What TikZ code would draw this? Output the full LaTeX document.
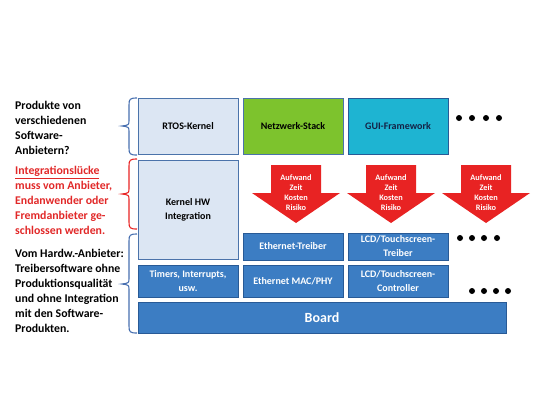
\documentclass[tikz,border=0pt]{standalone}
\usepackage{fontspec}
\setmainfont{Carlito}
\definecolor{lightc}{RGB}{220,230,243}
\definecolor{lightb}{RGB}{75,115,170}
\definecolor{midc}{RGB}{60,125,195}
\definecolor{midb}{RGB}{40,90,150}
\definecolor{greenc}{RGB}{125,195,45}
\definecolor{cyanc}{RGB}{30,180,210}
\definecolor{redc}{RGB}{232,35,35}
\definecolor{redt}{RGB}{225,40,40}
\definecolor{braceb}{RGB}{70,110,175}
\begin{document}
\begin{tikzpicture}[x=1bp,y=-1bp,
  box/.style={draw=lightb, line width=1bp, inner sep=0pt, outer sep=0pt, align=center,
    minimum width=100bp, font=\bfseries\fontsize{10bp}{14bp}\selectfont},
  lbox/.style={box, fill=lightc},
  mbox/.style={box, draw=midb, fill=midc, text=white},
  arrtext/.style={text=white, align=center, inner sep=0pt, font=\bfseries\fontsize{8.3bp}{10bp}\selectfont},
  sidetext/.style={anchor=north west, inner sep=0pt, align=left, font=\bfseries\fontsize{11.8bp}{15bp}\selectfont},
  bracesty/.style={line width=1.1bp},
  arrowsty/.style={fill=redc}
]
\useasboundingbox (0,0) rectangle (540,405);

% top row
\node[lbox, minimum height=56bp] (rtos) at (188,126) {RTOS-Kernel};
\node[box, fill=greenc, draw=lightb, minimum height=56bp] (netz) at (293,126) {Netzwerk-Stack};
\node[box, fill=cyanc, draw=midb, text={rgb,255:red,20;green,35;blue,70}, minimum height=56bp] (gui) at (398,126) {GUI-Framework};

% kernel integration
\node[lbox, minimum height=99bp] (kern) at (188,209.5) {Kernel HW\\Integration};

% driver rows
\node[mbox, minimum height=27bp] (ethtr) at (293,246.5) {Ethernet-Treiber};
\node[mbox, minimum height=27bp] (lcdtr) at (398,246.5) {LCD/Touchscreen-\\Treiber};
\node[mbox, minimum height=32bp] (timers) at (188,281) {Timers, Interrupts,\\usw.};
\node[mbox, minimum height=32bp] (ethmac) at (293,281) {Ethernet MAC/PHY};
\node[mbox, minimum height=32bp] (lcdctl) at (398,281) {LCD/Touchscreen-\\Controller};
\node[mbox, minimum width=368bp, minimum height=31bp, font=\bfseries\fontsize{14bp}{16bp}\selectfont] (board) at (322,317.5) {Board};

% red arrows
\foreach \cx/\n in {296/arrA, 391/arrB, 486/arrC}{
  \path[arrowsty] ({\cx-25},165) -- ({\cx+25},165) -- ({\cx+25},193) -- ({\cx+44},193)
    -- (\cx,223) -- ({\cx-44},193) -- ({\cx-25},193) -- cycle;
  \node[arrtext] (\n) at (\cx,193) {Aufwand\\Zeit\\Kosten\\Risiko};
}

% dots
\foreach \x in {459,472,486,499}{ \fill (\x,118) circle (3bp); }
\foreach \x in {460,472,484,497}{ \fill (\x,238) circle (3bp); }
\foreach \x in {472,484,496,508}{ \fill (\x,291) circle (3bp); }

% braces (rounded, like office curly braces)
\foreach \t/\m/\b/\c in {98/126/155/braceb, 159/194/229/redc, 234/284/333/braceb}{
  \draw[bracesty, \c] (137,\t) .. controls (130,\t) and (129,\t+1) .. (129,\t+7)
    -- (129,\m-6) .. controls (129,\m-1) .. (122,\m)
    .. controls (129,\m+1) .. (129,\m+6)
    -- (129,\b-7) .. controls (129,\b-1) and (130,\b) .. (137,\b);
}

% side texts
\node[sidetext] (q1) at (15,101.5) {Produkte von\\verschiedenen\\Software-\\Anbietern?};
\node[sidetext, text=redt] (q2) at (15,166) {\underline{Integrationslücke}\\muss vom Anbieter,\\Endanwender oder\\Fremdanbieter ge-\\schlossen werden.};
\node[sidetext] (q3) at (15,249) {Vom Hardw.-Anbieter:\\Treibersoftware ohne\\Produktionsqualität\\und ohne Integration\\mit den Software-\\Produkten.};
\end{tikzpicture}
\end{document}
